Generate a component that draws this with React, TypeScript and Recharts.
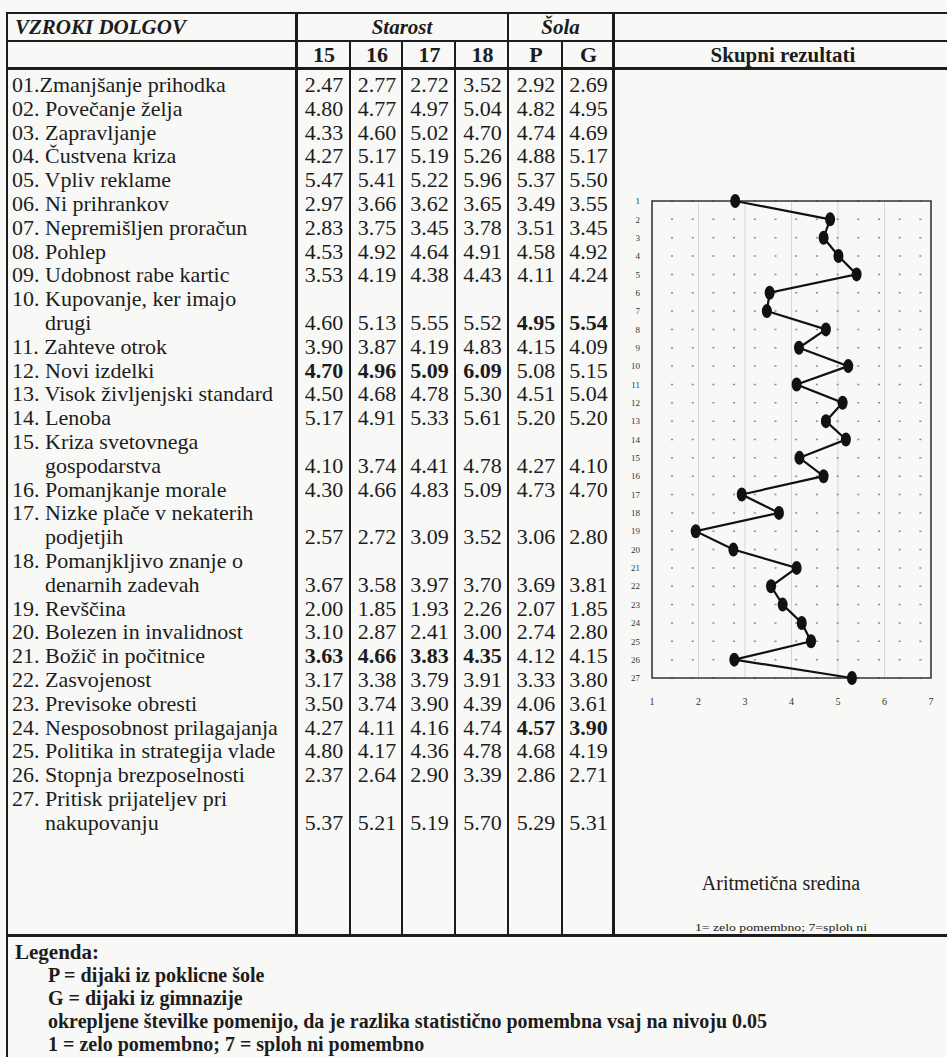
import React from 'react';
import { LineChart, Line, XAxis, YAxis, CartesianGrid, ReferenceArea } from 'recharts';

// ---------- data ----------
const causes: string[][] = [
  ['01.Zmanjšanje prihodka'],
  ['02. Povečanje želja'],
  ['03. Zapravljanje'],
  ['04. Čustvena kriza'],
  ['05. Vpliv reklame'],
  ['06. Ni prihrankov'],
  ['07. Nepremišljen proračun'],
  ['08. Pohlep'],
  ['09. Udobnost rabe kartic'],
  ['10. Kupovanje, ker imajo', 'drugi'],
  ['11. Zahteve otrok'],
  ['12. Novi izdelki'],
  ['13. Visok življenjski standard'],
  ['14. Lenoba'],
  ['15. Kriza svetovnega', 'gospodarstva'],
  ['16. Pomanjkanje morale'],
  ['17. Nizke plače v nekaterih', 'podjetjih'],
  ['18. Pomanjkljivo znanje o', 'denarnih zadevah'],
  ['19. Revščina'],
  ['20. Bolezen in invalidnost'],
  ['21. Božič in počitnice'],
  ['22. Zasvojenost'],
  ['23. Previsoke obresti'],
  ['24. Nesposobnost prilagajanja'],
  ['25. Politika in strategija vlade'],
  ['26. Stopnja brezposelnosti'],
  ['27. Pritisk prijateljev pri', 'nakupovanju'],
];

const columnLabels = ['15', '16', '17', '18', 'P', 'G'];

const age15 = [2.47, 4.80, 4.33, 4.27, 5.47, 2.97, 2.83, 4.53, 3.53, 4.60, 3.90, 4.70, 4.50, 5.17, 4.10, 4.30, 2.57, 3.67, 2.00, 3.10, 3.63, 3.17, 3.50, 4.27, 4.80, 2.37, 5.37];
const age16 = [2.77, 4.77, 4.60, 5.17, 5.41, 3.66, 3.75, 4.92, 4.19, 5.13, 3.87, 4.96, 4.68, 4.91, 3.74, 4.66, 2.72, 3.58, 1.85, 2.87, 4.66, 3.38, 3.74, 4.11, 4.17, 2.64, 5.21];
const age17 = [2.72, 4.97, 5.02, 5.19, 5.22, 3.62, 3.45, 4.64, 4.38, 5.55, 4.19, 5.09, 4.78, 5.33, 4.41, 4.83, 3.09, 3.97, 1.93, 2.41, 3.83, 3.79, 3.90, 4.16, 4.36, 2.90, 5.19];
const age18 = [3.52, 5.04, 4.70, 5.26, 5.96, 3.65, 3.78, 4.91, 4.43, 5.52, 4.83, 6.09, 5.30, 5.61, 4.78, 5.09, 3.52, 3.70, 2.26, 3.00, 4.35, 3.91, 4.39, 4.74, 4.78, 3.39, 5.70];
const schoolP = [2.92, 4.82, 4.74, 4.88, 5.37, 3.49, 3.51, 4.58, 4.11, 4.95, 4.15, 5.08, 4.51, 5.20, 4.27, 4.73, 3.06, 3.69, 2.07, 2.74, 4.12, 3.33, 4.06, 4.57, 4.68, 2.86, 5.29];
const schoolG = [2.69, 4.95, 4.69, 5.17, 5.50, 3.55, 3.45, 4.92, 4.24, 5.54, 4.09, 5.15, 5.04, 5.20, 4.10, 4.70, 2.80, 3.81, 1.85, 2.80, 4.15, 3.80, 3.61, 3.90, 4.19, 2.71, 5.31];

// items whose age values / school values are printed bold
const boldAgeItems = [12, 21];
const boldSchoolItems = [10, 24];

// overall arithmetic mean (Skupni rezultati)
const itemNumbers = [1, 2, 3, 4, 5, 6, 7, 8, 9, 10, 11, 12, 13, 14, 15, 16, 17, 18, 19, 20, 21, 22, 23, 24, 25, 26, 27];
const overallMean = [2.79, 4.83, 4.69, 5.01, 5.40, 3.53, 3.47, 4.74, 4.16, 5.22, 4.11, 5.10, 4.74, 5.17, 4.17, 4.69, 2.93, 3.73, 1.94, 2.75, 4.11, 3.56, 3.81, 4.22, 4.42, 2.77, 5.30];
const scaleTicks = [1, 2, 3, 4, 5, 6, 7];

const legendLines = [
  'P = dijaki iz poklicne šole',
  'G = dijaki iz gimnazije',
  'okrepljene številke pomenijo, da je razlika statistično pomembna vsaj na nivoju 0.05',
  '1 = zelo pomembno; 7 = sploh ni pomembno',
];

// ---------- layout ----------
const FONT = '"Liberation Serif", "Times New Roman", serif';
const INK = '#1c1c1c';
const colBorders = [296, 350, 402, 455, 508, 562, 613];
const FIRST_LINE_Y = 85;
const LINE_STEP = 23.8;

const chartData = itemNumbers.map((n, i) => ({ item: n, mean: overallMean[i] }));
const columns = [age15, age16, age17, age18, schoolP, schoolG];

const EllipseDot = (props: any) => {
  const { cx, cy, index } = props;
  if (cx == null || cy == null) return null;
  return <ellipse key={`d${index}`} cx={cx} cy={cy} rx={5} ry={7} fill="#111" />;
};

const Txt = ({ x, y, children, align = 'left', w = 0, size = 22, bold = false, italic = false }: any) => {
  const style: React.CSSProperties = {
    position: 'absolute',
    top: y - 12,
    height: 24,
    lineHeight: '24px',
    fontSize: size,
    fontWeight: bold ? 'bold' : 'normal',
    fontStyle: italic ? 'italic' : 'normal',
    whiteSpace: 'nowrap',
    color: INK,
  };
  if (align === 'center') {
    style.left = x - w / 2;
    style.width = w;
    style.textAlign = 'center';
  } else {
    style.left = x;
  }
  return <div style={style}>{children}</div>;
};

const HLine = ({ y, x1, x2, t }: any) => (
  <div style={{ position: 'absolute', left: x1, top: y - t / 2, width: x2 - x1, height: t, background: INK }} />
);
const VLine = ({ x, y1, y2, t }: any) => (
  <div style={{ position: 'absolute', left: x - t / 2, top: y1, width: t, height: y2 - y1, background: INK }} />
);

export default function App() {
  const rows: React.ReactNode[] = [];
  let line = 0;
  causes.forEach((lines, i) => {
    lines.forEach((txt, j) => {
      const y = FIRST_LINE_Y + LINE_STEP * (line + j);
      rows.push(
        <Txt key={`l${i}-${j}`} x={j === 0 ? 12 : 45} y={y}>
          {txt}
        </Txt>
      );
    });
    const vy = FIRST_LINE_Y + LINE_STEP * (line + lines.length - 1);
    columns.forEach((col, c) => {
      const bold = c < 4 ? boldAgeItems.includes(i + 1) : boldSchoolItems.includes(i + 1);
      const cx = (colBorders[c] + colBorders[c + 1]) / 2 + 1;
      rows.push(
        <Txt key={`v${i}-${c}`} x={cx} y={vy} align="center" w={52} bold={bold}>
          {col[i].toFixed(2)}
        </Txt>
      );
    });
    line += lines.length;
  });

  return (
    <div
      style={{
        position: 'absolute',
        left: 0,
        top: 0,
        width: 947,
        height: 1057,
        overflow: 'hidden',
        background: '#f8f8f6',
        fontFamily: FONT,
      }}
    >
      {/* table rules */}
      <HLine y={13} x1={6} x2={947} t={2.5} />
      <HLine y={41} x1={6} x2={947} t={1.5} />
      <HLine y={68} x1={6} x2={947} t={3} />
      <HLine y={935} x1={6} x2={947} t={3} />
      <VLine x={7} y1={12} y2={1057} t={2.5} />
      <VLine x={colBorders[0]} y1={12} y2={936} t={3} />
      <VLine x={colBorders[1]} y1={41} y2={936} t={1.5} />
      <VLine x={colBorders[2]} y1={41} y2={936} t={1.5} />
      <VLine x={colBorders[3]} y1={41} y2={936} t={1.5} />
      <VLine x={colBorders[4]} y1={12} y2={936} t={2.5} />
      <VLine x={colBorders[5]} y1={41} y2={936} t={1.5} />
      <VLine x={colBorders[6]} y1={12} y2={936} t={3} />

      {/* headers */}
      <Txt x={15} y={27} size={21} bold italic>VZROKI DOLGOV</Txt>
      <Txt x={(colBorders[0] + colBorders[4]) / 2} y={27} align="center" w={200} size={21} bold italic>Starost</Txt>
      <Txt x={(colBorders[4] + colBorders[6]) / 2} y={27} align="center" w={100} size={21} bold italic>Šola</Txt>
      {columnLabels.map((c, k) => (
        <Txt key={`h${k}`} x={(colBorders[k] + colBorders[k + 1]) / 2 + 1} y={55} align="center" w={52} size={22} bold>
          {c}
        </Txt>
      ))}
      <Txt x={783} y={55} align="center" w={300} size={21} bold>Skupni rezultati</Txt>

      {rows}

      {/* chart */}
      <div style={{ position: 'absolute', left: 612, top: 180 }}>
        <LineChart
          width={335}
          height={528}
          layout="vertical"
          data={chartData}
          margin={{ top: 21, right: 16, bottom: 0, left: 20 }}
        >
          <CartesianGrid horizontal={false} vertical stroke="#d6d6d6" strokeWidth={1} />
          <CartesianGrid vertical={false} horizontal stroke="#8a8a8a" strokeWidth={1.5} strokeDasharray="2 18.7" strokeDashoffset={-19} />
          <XAxis
            type="number"
            domain={[1, 7]}
            ticks={scaleTicks}
            interval={0}
            axisLine={false}
            tickLine={false}
            tickMargin={14}
            height={30}
            tick={{ fontSize: 10, fill: '#333', fontFamily: FONT }}
          />
          <YAxis
            type="number"
            dataKey="item"
            domain={[1, 27]}
            ticks={itemNumbers}
            interval={0}
            width={20}
            axisLine={false}
            tickLine={false}
            tickMargin={6}
            tick={{ fontSize: 9, fill: '#333', fontFamily: FONT }}
          />
          <ReferenceArea x1={1} x2={7} y1={1} y2={27} fill="none" fillOpacity={0} stroke="#333" strokeWidth={1.5} />
          <Line
            dataKey="mean"
            stroke="#111"
            strokeWidth={2.2}
            dot={<EllipseDot />}
            activeDot={false}
            isAnimationActive={false}
          />
        </LineChart>
      </div>

      <Txt x={781} y={883} align="center" w={300} size={20}>Aritmetična sredina</Txt>
      <div
        style={{
          position: 'absolute',
          left: 681,
          top: 920,
          width: 200,
          height: 14,
          lineHeight: '14px',
          fontSize: 11,
          textAlign: 'center',
          whiteSpace: 'nowrap',
          color: INK,
          transform: 'scaleX(1.25)',
        }}
      >
        1= zelo pomembno; 7=sploh ni
      </div>

      {/* legend */}
      <Txt x={15} y={952} size={21} bold>Legenda:</Txt>
      {legendLines.map((t, k) => (
        <Txt key={`lg${k}`} x={48} y={975 + 23 * k} size={20} bold>
          {t}
        </Txt>
      ))}
    </div>
  );
}
